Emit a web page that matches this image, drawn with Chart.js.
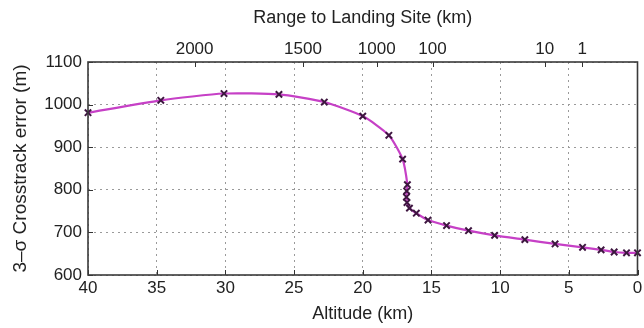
<!DOCTYPE html>
<html>
<head>
<meta charset="utf-8">
<style>
  html, body { margin: 0; padding: 0; background: #ffffff; }
  #wrap { width: 644px; height: 328px; }
</style>
<script src="https://cdn.jsdelivr.net/npm/chart.js@4/dist/chart.umd.min.js"></script>
</head>
<body>
<div id="wrap"><canvas id="c" width="644" height="328"></canvas></div>
<script>
// Altitude of each sample (km) and the 3-sigma crosstrack error there (m)
const altitudeKm = [40.0, 34.7, 30.1, 26.1, 22.8, 20.0, 18.1, 17.1, 16.75, 16.8, 16.82, 16.78, 16.6, 16.1, 15.25, 13.9, 12.3, 10.4, 8.2, 6.0, 4.0, 2.65, 1.7, 0.8, 0.0];
const crosstrackErrorM = [981, 1010, 1026, 1024, 1006, 973, 928, 872, 812, 797, 783, 770, 757, 745, 729, 716, 704, 693, 683, 673, 665, 659, 654, 652, 652];

// Secondary (top) axis: range to landing site, placed at the altitude where it is reached
const rangeTickAltitudeKm = [32.24, 24.35, 18.98, 14.92, 6.76, 4.03];
const rangeTickLabels = ['2000', '1500', '1000', '100', '10', '1'];

// Primary axis ticks
const altitudeTicks = [40, 35, 30, 25, 20, 15, 10, 5, 0];
const errorTicks = [600, 700, 800, 900, 1000, 1100];

const FONT = '"Liberation Sans", Arial, Helvetica, sans-serif';
const TEXT = '#222222';
const GRID = '#9a9a9a';

const points = altitudeKm.map((a, i) => ({ x: a, y: crosstrackErrorM[i] }));

// Axes box and inward-pointing tick marks, MATLAB style
const frame = {
  id: 'frame',
  afterDatasetsDraw(chart) {
    const { ctx, chartArea: a, scales } = chart;
    const len = 5;
    ctx.save();
    ctx.strokeStyle = '#333333';
    ctx.lineWidth = 1;
    ctx.beginPath();
    altitudeTicks.forEach(v => {
      const px = Math.round(scales.x.getPixelForValue(v)) + 0.5;
      ctx.moveTo(px, a.bottom); ctx.lineTo(px, a.bottom - len);
    });
    rangeTickAltitudeKm.forEach(v => {
      const px = Math.round(scales.x2.getPixelForValue(v)) + 0.5;
      ctx.moveTo(px, a.top); ctx.lineTo(px, a.top + len);
    });
    errorTicks.forEach(v => {
      const py = Math.round(scales.y.getPixelForValue(v)) + 0.5;
      ctx.moveTo(a.left, py); ctx.lineTo(a.left + len, py);
    });
    ctx.stroke();
    ctx.lineWidth = 1.6;
    ctx.strokeStyle = '#3a3a3a';
    ctx.strokeRect(a.left, a.top, a.right - a.left, a.bottom - a.top);
    ctx.restore();
  }
};

new Chart(document.getElementById('c'), {
  type: 'line',
  data: {
    datasets: [{
      data: points,
      borderColor: '#c640c6',
      borderWidth: 2.2,
      tension: 0.2,
      pointStyle: 'crossRot',
      pointRadius: 4.5,
      pointBorderWidth: 2,
      pointBorderColor: '#3e1640',
      pointBackgroundColor: '#3e1640',
      clip: false,
      xAxisID: 'x',
      yAxisID: 'y'
    }]
  },
  options: {
    responsive: false,
    animation: false,
    devicePixelRatio: 1,
    layout: { padding: { left: 0, right: 5, top: 0, bottom: 0 } },
    plugins: { legend: { display: false }, tooltip: { enabled: false } },
    scales: {
      x: {
        type: 'linear',
        position: 'bottom',
        reverse: true,
        min: 0,
        max: 40,
        afterBuildTicks: s => { s.ticks = altitudeTicks.map(v => ({ value: v })); },
        afterFit: s => { s.height = 53; s.paddingLeft = 0; s.paddingRight = 0; },
        ticks: { color: TEXT, font: { family: FONT, size: 17 }, padding: 3, maxRotation: 0, autoSkip: false, callback: v => String(v) },
        grid: { color: GRID, lineWidth: 1, drawTicks: false },
        border: { display: false, dash: [2, 4] },
        title: { display: true, text: 'Altitude (km)', color: TEXT, font: { family: FONT, size: 18 }, padding: { top: 0, bottom: 3 } }
      },
      x2: {
        type: 'linear',
        position: 'top',
        reverse: true,
        min: 0,
        max: 40,
        afterBuildTicks: s => { s.ticks = rangeTickAltitudeKm.map(v => ({ value: v })); },
        afterFit: s => { s.height = 62; s.paddingLeft = 0; s.paddingRight = 0; },
        ticks: {
          color: TEXT, font: { family: FONT, size: 17 }, padding: 2, maxRotation: 0, autoSkip: false,
          callback: (v, i) => rangeTickLabels[i]
        },
        grid: { drawOnChartArea: false, drawTicks: false },
        border: { display: false },
        title: { display: true, text: 'Range to Landing Site (km)', color: TEXT, font: { family: FONT, size: 18 }, padding: { top: 7, bottom: 0 } }
      },
      y: {
        type: 'linear',
        position: 'left',
        min: 600,
        max: 1100,
        afterBuildTicks: s => { s.ticks = errorTicks.map(v => ({ value: v })); },
        afterFit: s => { s.width = 88; },
        ticks: { color: TEXT, font: { family: FONT, size: 17 }, padding: 6, callback: v => String(v) },
        grid: { color: GRID, lineWidth: 1, drawTicks: false },
        border: { display: false, dash: [2, 4] },
        title: { display: true, text: '3\u2013\u03c3 Crosstrack error (m)', color: TEXT, font: { family: FONT, size: 19 }, padding: { top: 9, bottom: 0 } }
      }
    }
  },
  plugins: [frame]
});
</script>
</body>
</html>
